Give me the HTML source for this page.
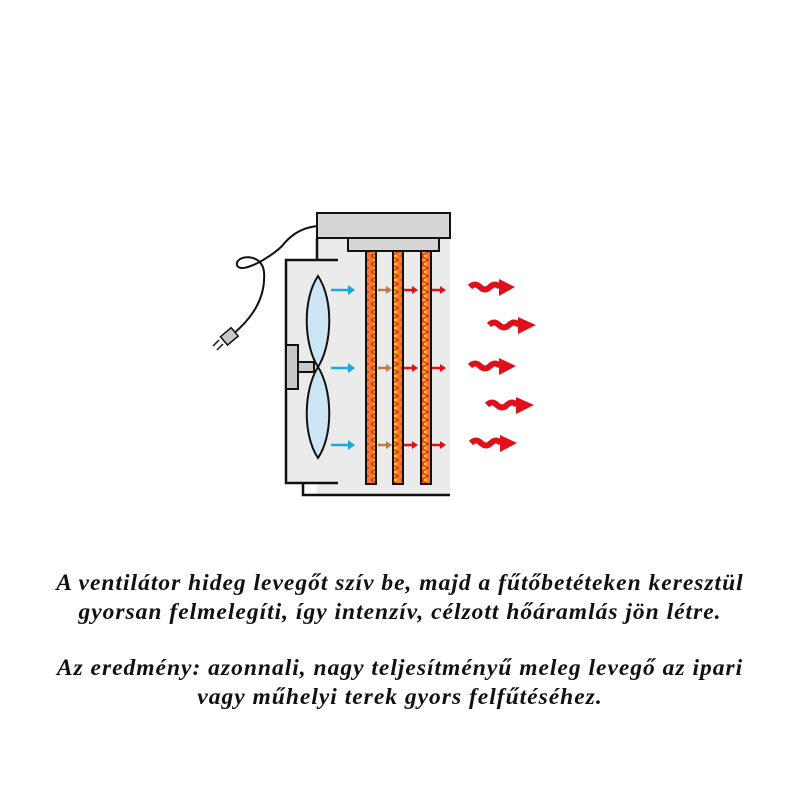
<!DOCTYPE html>
<html><head><style>
body{margin:0;width:800px;height:800px;background:#fff;position:relative;overflow:hidden}
.t{position:absolute;left:0;width:800px;text-align:center;font-family:"Liberation Serif",serif;font-style:italic;font-weight:bold;font-size:23.5px;letter-spacing:1px;color:#111;line-height:28.5px;white-space:nowrap}
</style></head><body>
<svg width="800" height="800" style="position:absolute;left:0;top:0">
<defs>
<pattern id="zz" width="10" height="8" patternUnits="userSpaceOnUse"><rect width="10" height="8" fill="#f07a2a"/><rect x="3.5" y="0" width="3" height="8" fill="#ffd81a" opacity=".85"/><path d="M1,0 L8,4 L1,8" fill="none" stroke="#e02020" stroke-width="1.3"/></pattern>
</defs>
<rect x="317" y="238" width="133" height="257" fill="#ebebeb"/>
<path d="M338,260 H286 V483 H338" fill="#ebebeb" stroke="#111" stroke-width="2.5"/>
<path d="M317,238 V260 M303,483 V495 H450" fill="none" stroke="#111" stroke-width="2.5"/>
<rect x="317" y="213" width="133" height="25" fill="#d6d6d6" stroke="#111" stroke-width="2"/>
<rect x="348" y="238" width="91" height="13" fill="#d6d6d6" stroke="#111" stroke-width="2"/>
<g stroke="#111" stroke-width="2" fill="url(#zz)">
<rect x="366" y="251" width="10" height="233"/><rect x="393" y="251" width="10" height="233"/><rect x="421" y="251" width="10" height="233"/>
</g>
<path d="M318,276 C334,300 332,345 318,367 C304,389 302,434 318,458 C334,434 332,389 318,367 C304,345 302,300 318,276z" fill="#cde6f5" stroke="#111" stroke-width="2"/>
<rect x="286" y="345" width="12" height="44" fill="#c8c8c8" stroke="#111" stroke-width="2"/>
<rect x="298" y="362" width="16" height="10" fill="#c8c8c8" stroke="#111" stroke-width="2"/>
<path d="M317,226 C300,228 290,236 282,246 C270,258 240,275 237,265 C235,255 262,252 264,272 C266,300 250,320 232,335" fill="none" stroke="#111" stroke-width="2"/>
<rect x="222" y="331" width="14" height="11" transform="rotate(-40 229 336)" fill="#c8c8c8" stroke="#111" stroke-width="1.5"/>
<path d="M219,340 L213,346 M223,344 L217,350" stroke="#111" stroke-width="1.5"/>
<g stroke="#1aa8dc" stroke-width="2.5"><path d="M331,290 H350"/><path d="M331,368 H350"/><path d="M331,445 H350"/></g>
<g fill="#1aa8dc"><path d="M348,285 L355,290 L348,295z"/><path d="M348,363 L355,368 L348,373z"/><path d="M348,440 L355,445 L348,450z"/></g>
<g stroke="#c07850" stroke-width="2.5"><path d="M378,290 H387"/><path d="M378,368 H387"/><path d="M378,445 H387"/></g>
<g fill="#c07850"><path d="M386,286 L392,290 L386,294z"/><path d="M386,364 L392,368 L386,372z"/><path d="M386,441 L392,445 L386,449z"/></g>
<g stroke="#e0101a" stroke-width="2.5"><path d="M404,290 H413 M432,290 H441 M404,368 H413 M432,368 H441 M404,445 H413 M432,445 H441"/></g>
<g fill="#e0101a"><path d="M412,286 L418,290 L412,294z M440,286 L446,290 L440,294z M412,364 L418,368 L412,372z M440,364 L446,368 L440,372z M412,441 L418,445 L412,449z M440,441 L446,445 L440,449z"/></g>
<g fill="none" stroke="#e0101a" stroke-width="6">
<path d="M470,287 q5,-5 10,0 t10,0 t10,0"/>
<path d="M489,325 q5,-5 10,0 t10,0 t10,0"/>
<path d="M470,366 q5,-5 10,0 t10,0 t10,0"/>
<path d="M487,405 q5,-5 10,0 t10,0 t10,0"/>
<path d="M471,443 q5,-5 10,0 t10,0 t10,0"/>
</g>
<g fill="#e0101a">
<path d="M499,279 L515,287 L499,296z"/><path d="M518,317 L536,325 L518,334z"/><path d="M499,358 L516,366 L499,375z"/><path d="M516,397 L534,405 L516,414z"/><path d="M500,435 L517,443 L500,452z"/>
</g>
</svg>
<div class="t" style="top:569px">A ventilátor hideg levegőt szív be, majd a fűtőbetéteken keresztül<br>gyorsan felmelegíti, így intenzív, célzott hőáramlás jön létre.</div>
<div class="t" style="top:654px">Az eredmény: azonnali, nagy teljesítményű meleg levegő az ipari<br>vagy műhelyi terek gyors felfűtéséhez.</div>
</body></html>
